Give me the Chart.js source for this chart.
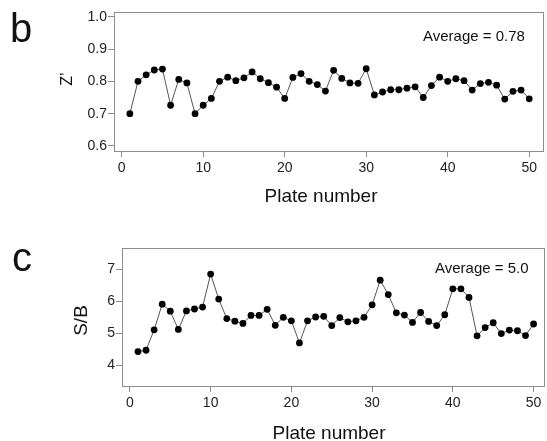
<!DOCTYPE html>
<html>
<head>
<meta charset="utf-8">
<script src="https://cdn.jsdelivr.net/npm/chart.js@4.4.1/dist/chart.umd.min.js"></script>
<style>
  body { margin: 0; width: 547px; height: 441px; overflow: hidden; background: #fff; position: relative;
         font-family: "Liberation Sans", Arial, sans-serif; }
  .panel { position: absolute; left: 0; }
  .txt { position: absolute; line-height: 1; color: #111; white-space: nowrap; }
</style>
</head>
<body>
<div class="panel" style="top:0;width:547px;height:215px"><canvas id="zChart"></canvas></div>
<div class="panel" style="top:230px;width:548px;height:220px"><canvas id="sbChart"></canvas></div>

<div class="txt" style="left:10px;top:8px;font-size:40px">b</div>
<div class="txt" style="left:12px;top:237px;font-size:40px">c</div>
<div class="txt" style="left:423px;top:28px;font-size:15px">Average = 0.78</div>
<div class="txt" style="left:435px;top:260px;font-size:15px">Average = 5.0</div>
<div class="txt" style="left:221px;top:186px;width:200px;text-align:center;font-size:19px">Plate number</div>
<div class="txt" style="left:229px;top:423px;width:200px;text-align:center;font-size:19px">Plate number</div>
<div class="txt" style="left:37px;top:71px;width:60px;text-align:center;font-size:16px;transform:rotate(-90deg)">Z’</div>
<div class="txt" style="left:50px;top:311px;width:60px;text-align:center;font-size:19px;transform:rotate(-90deg)">S/B</div>

<script>
// plate numbers 1..50
const plates = [1, 2, 3, 4, 5, 6, 7, 8, 9, 10, 11, 12, 13, 14, 15, 16, 17, 18, 19, 20,
  21, 22, 23, 24, 25, 26, 27, 28, 29, 30, 31, 32, 33, 34, 35, 36, 37, 38, 39, 40,
  41, 42, 43, 44, 45, 46, 47, 48, 49, 50];

// Z' per plate (panel b)
const zPrime = [0.70, 0.80, 0.82, 0.835, 0.838, 0.726, 0.806, 0.795, 0.70, 0.726,
  0.747, 0.80, 0.813, 0.802, 0.811, 0.829, 0.808, 0.796, 0.782, 0.747,
  0.812, 0.824, 0.80, 0.79, 0.77, 0.834, 0.809, 0.795, 0.794, 0.839,
  0.758, 0.767, 0.774, 0.774, 0.779, 0.783, 0.75, 0.787, 0.813, 0.80,
  0.808, 0.802, 0.773, 0.793, 0.797, 0.788, 0.745, 0.769, 0.773, 0.746];

// S/B per plate (panel c)
const signalBg = [4.43, 4.47, 5.11, 5.91, 5.69, 5.12, 5.70, 5.76, 5.82, 6.85,
  6.07, 5.46, 5.38, 5.31, 5.56, 5.56, 5.75, 5.25, 5.50, 5.39,
  4.70, 5.39, 5.51, 5.53, 5.24, 5.49, 5.36, 5.39, 5.50, 5.89,
  6.66, 6.21, 5.64, 5.57, 5.34, 5.65, 5.37, 5.24, 5.58, 6.39,
  6.39, 6.12, 4.92, 5.18, 5.33, 4.99, 5.10, 5.08, 4.93, 5.29];

const xTicks = [0, 10, 20, 30, 40, 50];
const zTicks = [0.6, 0.7, 0.8, 0.9, 1.0];
const sbTicks = [4, 5, 6, 7];

const axisGrey = '#8c8c8c';
const tickFont = { family: '"Liberation Sans", Arial, sans-serif', size: 14 };

// draws the grey frame around the plot area
const framePlugin = {
  id: 'frame',
  beforeDatasetsDraw(chart) {
    const { ctx, chartArea: a } = chart;
    ctx.save();
    ctx.strokeStyle = axisGrey;
    ctx.lineWidth = 1;
    ctx.strokeRect(Math.round(a.left) + 0.5, Math.round(a.top) + 0.5,
      Math.round(a.right - a.left), Math.round(a.bottom - a.top));
    ctx.restore();
  }
};

function makeChart(id, values, yTicks, opts) {
  const ctx = document.getElementById(id).getContext('2d');
  return new Chart(ctx, {
    type: 'line',
    data: {
      datasets: [{
        data: plates.map((p, i) => ({ x: p, y: values[i] })),
        borderColor: '#555',
        borderWidth: 1,
        pointRadius: 3.4,
        pointBackgroundColor: '#000',
        pointBorderWidth: 0,
        tension: 0
      }]
    },
    options: {
      responsive: true,
      maintainAspectRatio: false,
      animation: false,
      layout: { padding: opts.padding },
      plugins: { legend: { display: false }, tooltip: { enabled: false } },
      scales: {
        x: {
          type: 'linear', min: opts.xMin, max: opts.xMax,
          afterBuildTicks: s => { s.ticks = xTicks.map(v => ({ value: v })); },
          afterFit: s => { s.height = opts.xHeight; },
          grid: { drawOnChartArea: false, tickLength: 6, color: axisGrey },
          border: { display: false },
          ticks: { font: tickFont, color: '#222', padding: 3, maxRotation: 0,
                   callback: v => String(v) }
        },
        y: {
          min: opts.yMin, max: opts.yMax,
          afterBuildTicks: s => { s.ticks = yTicks.map(v => ({ value: v })); },
          afterFit: s => { s.width = opts.yWidth; },
          grid: { drawOnChartArea: false, tickLength: 6, color: axisGrey },
          border: { display: false },
          ticks: { font: tickFont, color: '#222', padding: 1,
                   callback: opts.fmt }
        }
      }
    },
    plugins: [framePlugin]
  });
}

makeChart('zChart', zPrime, zTicks, {
  padding: { top: 12, right: 4, left: 0, bottom: 0 },
  xHeight: 64, yWidth: 114,
  xMin: -0.945, xMax: 51.69, yMin: 0.5845, yMax: 1.0145,
  fmt: v => v.toFixed(1)
});

makeChart('sbChart', signalBg, sbTicks, {
  padding: { top: 18, right: 0, left: 0, bottom: 0 },
  xHeight: 64, yWidth: 122,
  xMin: -0.98, xMax: 51.29, yMin: 3.353, yMax: 7.666,
  fmt: v => String(v)
});
</script>
</body>
</html>
